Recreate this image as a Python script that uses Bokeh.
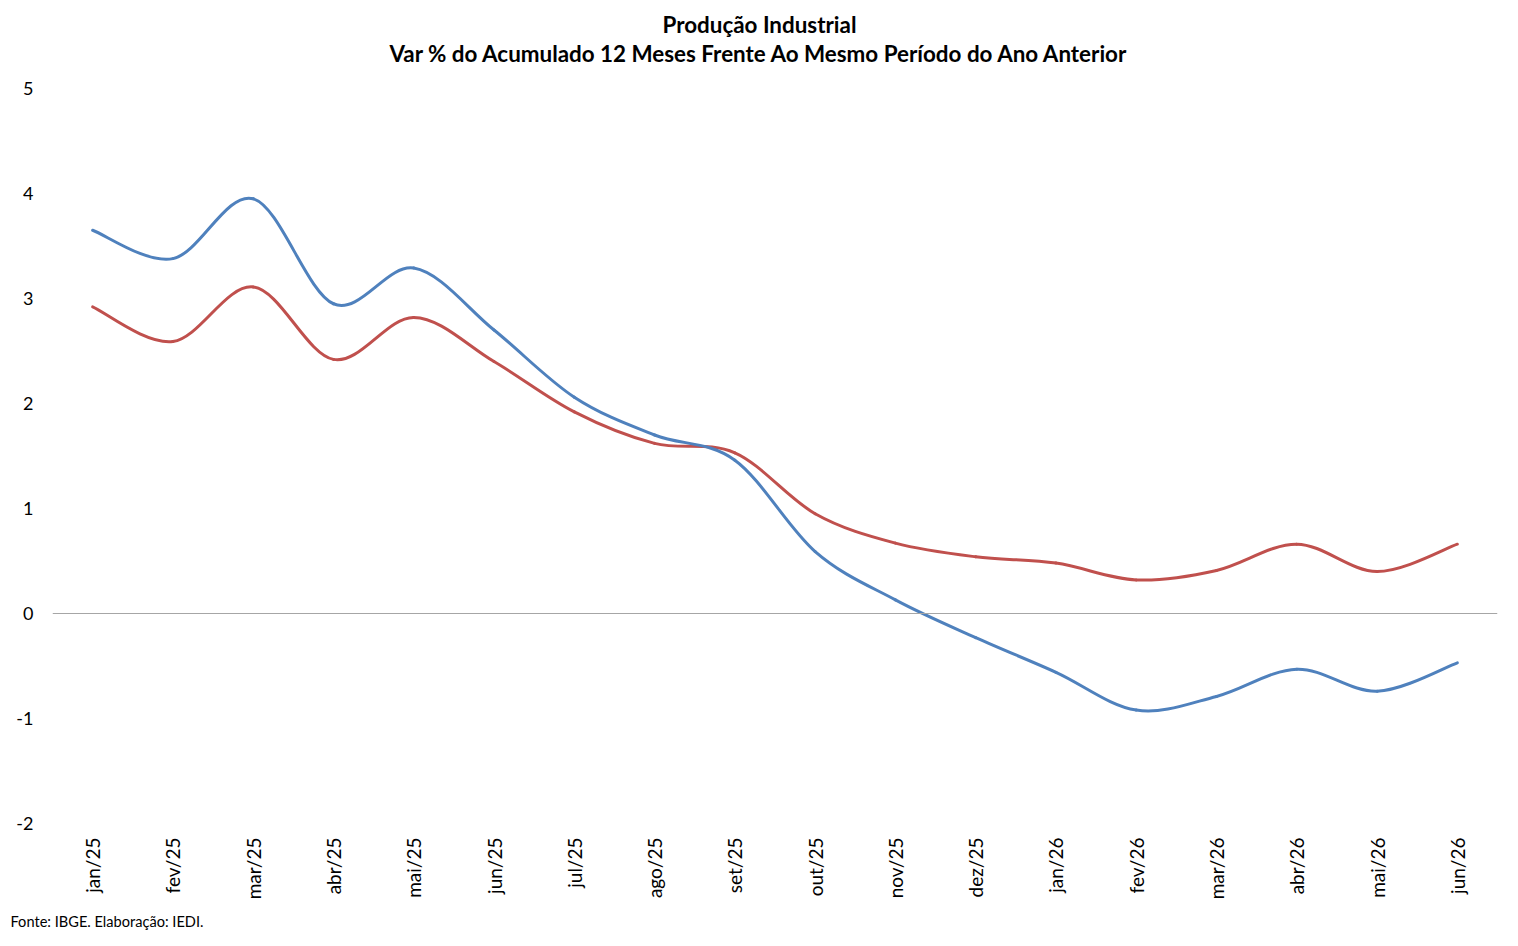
import numpy as np
from bokeh.plotting import figure
from bokeh.models import FixedTicker, Span, Range1d, Title
from bokeh.embed import file_html
from bokeh.resources import INLINE

months = ["jan/25", "fev/25", "mar/25", "abr/25", "mai/25", "jun/25", "jul/25", "ago/25",
          "set/25", "out/25", "nov/25", "dez/25", "jan/26", "fev/26", "mar/26", "abr/26",
          "mai/26", "jun/26"]
serie_azul = [3.65, 3.38, 3.95, 2.95, 3.29, 2.70, 2.06, 1.70, 1.46, 0.59, 0.13, -0.23,
              -0.56, -0.92, -0.79, -0.53, -0.74, -0.47]
serie_vermelha = [2.92, 2.59, 3.11, 2.42, 2.82, 2.40, 1.92, 1.62, 1.53, 0.95, 0.67, 0.54,
                  0.48, 0.32, 0.41, 0.66, 0.40, 0.66]
y_ticks = [-2, -1, 0, 1, 2, 3, 4, 5]

FONT = "Lato"

p = figure(width=1510, height=938, output_backend="svg", toolbar_location=None,
           x_range=Range1d(-0.5, len(months) - 0.5), y_range=Range1d(-2, 5),
           min_border_left=52, min_border_right=13, min_border_top=88, min_border_bottom=114)
p.outline_line_color = None
p.grid.visible = False
p.background_fill_color = "white"
p.border_fill_color = "white"

# axes
p.xaxis.ticker = FixedTicker(ticks=list(range(len(months))))
p.xaxis.major_label_overrides = {i: m for i, m in enumerate(months)}
p.xaxis.major_label_orientation = np.pi / 2
p.xaxis.axis_line_color = None
p.xaxis.major_tick_line_color = None
p.xaxis.minor_tick_line_color = None
p.xaxis.major_label_standoff = 8
p.xaxis.major_label_text_font = FONT
p.xaxis.major_label_text_font_size = "19px"
p.xaxis.major_label_text_color = "#000000"

p.yaxis.ticker = FixedTicker(ticks=y_ticks)
p.yaxis.major_label_overrides = {t: str(t) for t in y_ticks}
p.yaxis.axis_line_color = None
p.yaxis.major_tick_line_color = None
p.yaxis.minor_tick_line_color = None
p.yaxis.major_label_standoff = 13
p.yaxis.major_label_text_font = FONT
p.yaxis.major_label_text_font_size = "18px"
p.yaxis.major_label_text_color = "#000000"

p.add_layout(Span(location=0, dimension="width", line_color="#A6A6A6", line_width=1))


def smooth(xs, ys):
    xs = np.asarray(xs, float)
    ys = np.asarray(ys, float)
    n = len(xs)
    x0, y0, x1, y1, cx0, cy0, cx1, cy1 = [], [], [], [], [], [], [], []
    for i in range(n - 1):
        im1 = max(i - 1, 0)
        ip2 = min(i + 2, n - 1)
        x0.append(xs[i]); y0.append(ys[i])
        x1.append(xs[i + 1]); y1.append(ys[i + 1])
        cx0.append(xs[i] + (xs[i + 1] - xs[im1]) / 6)
        cy0.append(ys[i] + (ys[i + 1] - ys[im1]) / 6)
        cx1.append(xs[i + 1] - (xs[ip2] - xs[i]) / 6)
        cy1.append(ys[i + 1] - (ys[ip2] - ys[i]) / 6)
    return dict(x0=x0, y0=y0, x1=x1, y1=y1, cx0=cx0, cy0=cy0, cx1=cx1, cy1=cy1)


xs = list(range(len(months)))
for ys, color in [(serie_vermelha, "#C0504D"), (serie_azul, "#4F81BD")]:
    d = smooth(xs, ys)
    p.bezier(x0=d["x0"], y0=d["y0"], x1=d["x1"], y1=d["y1"],
             cx0=d["cx0"], cy0=d["cy0"], cx1=d["cx1"], cy1=d["cy1"],
             line_color=color, line_width=3, line_cap="round")

# titles and footnote
p.add_layout(Title(text="Var % do Acumulado 12 Meses Frente Ao Mesmo Período do Ano Anterior",
                   align="left", offset=337, text_font=FONT, text_font_style="bold",
                   text_font_size="22.4px", text_color="#000000", standoff=43), "above")
p.add_layout(Title(text="Produção Industrial", align="left", offset=610, text_font=FONT,
                   text_font_style="bold", text_font_size="22.4px", text_color="#000000",
                   standoff=-43), "above")
p.add_layout(Title(text="Fonte: IBGE. Elaboração: IEDI.", align="left", offset=-42,
                   text_font=FONT, text_font_style="normal", text_font_size="14.6px",
                   text_color="#000000", standoff=17), "below")

open("out.html", "w").write(file_html(p, INLINE))
